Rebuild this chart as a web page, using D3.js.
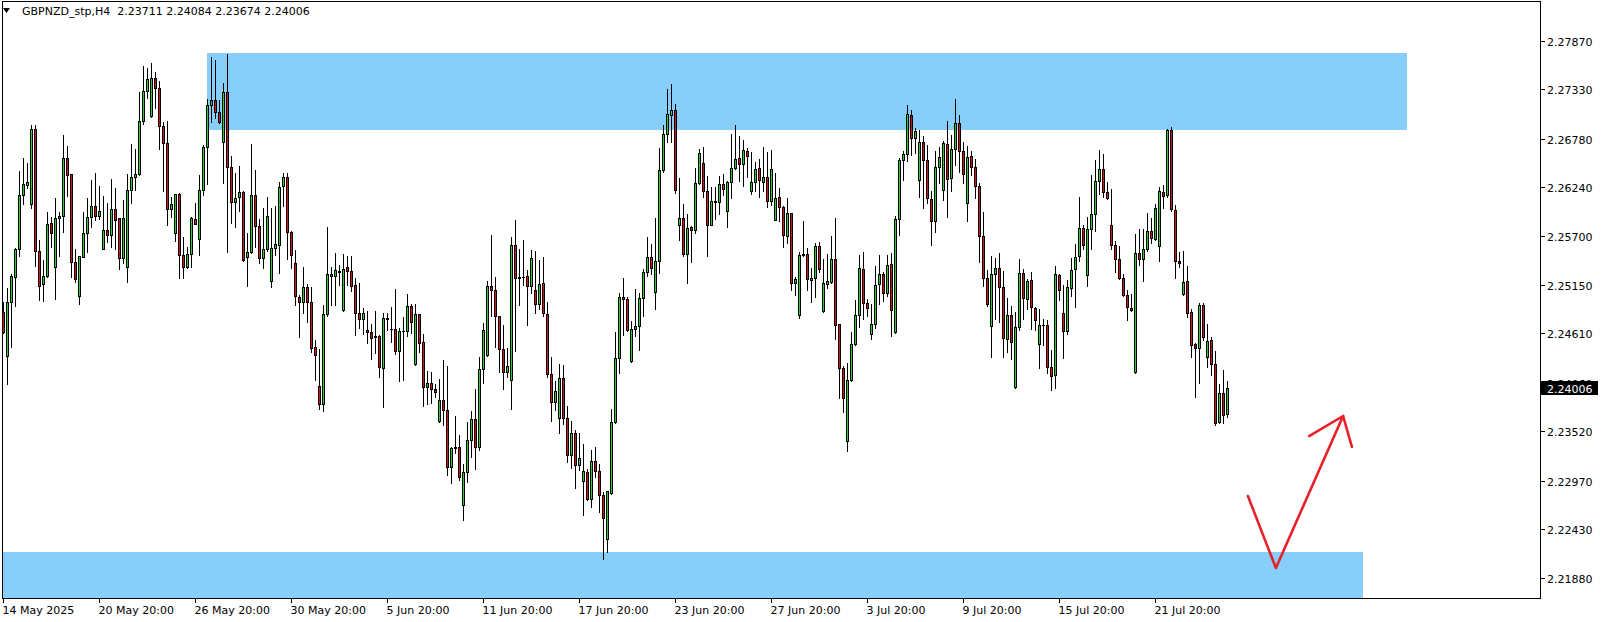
<!DOCTYPE html>
<html><head><meta charset="utf-8">
<script src="https://cdn.jsdelivr.net/npm/d3@7"></script>
<style>
html,body{margin:0;padding:0;background:#fff;overflow:hidden}
svg{display:block}
text{font-family:"DejaVu Sans",sans-serif;font-size:11px;fill:#000}
</style></head><body>
<svg id="chart" width="1604" height="622"></svg>
<script>
const symbolTitle = "GBPNZD_stp,H4";
const lastBar = [2.23711, 2.24084, 2.23674, 2.24006];

const open = [
2.24845,2.24362,2.24956,2.25242,2.25547,2.26149,2.26268,2.26049,2.26884,2.25525,
2.25157,2.25246,2.25837,2.25354,2.25893,2.25922,2.26561,2.26383,2.25402,2.25031,
2.25461,2.25725,2.25904,2.26026,2.25922,2.25554,2.25759,2.25710,2.25993,2.25893,
2.25454,2.25354,2.26205,2.26353,2.26383,2.26974,2.27308,2.27029,2.27453,2.27341,
2.26918,2.26728,2.26000,2.25725,2.26160,2.25480,2.25354,2.25491,2.25881,2.25666,
2.26205,2.26684,2.27151,2.27207,2.27074,2.26739,2.27297,2.26460,2.26071,2.26126,
2.26182,2.25458,2.25514,2.26149,2.25804,2.25447,2.25547,2.25190,2.25558,2.25592,
2.26249,2.26349,2.25737,2.25391,2.25012,2.24956,2.25123,2.24956,2.24455,2.24020,
2.23820,2.24823,2.25246,2.25246,2.25291,2.24867,2.25347,2.25302,2.25146,2.24834,
2.24767,2.24644,2.24622,2.24577,2.24577,2.24221,2.24767,2.24656,2.24655,2.24410,
2.24633,2.24633,2.24912,2.24265,2.24823,2.24510,2.24009,2.24054,2.23987,2.23630,
2.23864,2.23753,2.23117,2.23329,2.23340,2.22694,2.23062,2.23418,2.23652,2.23340,
2.24210,2.24366,2.25134,2.25090,2.24800,2.24433,2.24176,2.24087,2.25592,2.25235,
2.25233,2.25246,2.25134,2.25090,2.24934,2.25168,2.24823,2.24154,2.23842,2.23663,
2.24109,2.23663,2.23251,2.23496,2.23139,2.22961,2.23062,2.22759,2.23184,2.23073,
2.22805,2.22315,2.22828,2.23619,2.24332,2.25012,2.24990,2.24299,2.24655,2.24689,
2.25001,2.25291,2.25458,2.25068,2.25413,2.26428,2.26829,2.27040,2.27096,2.25817,
2.25893,2.25491,2.25792,2.25759,2.26283,2.26506,2.26193,2.25817,2.26071,2.26071,
2.26271,2.25971,2.26294,2.26450,2.26561,2.26494,2.26639,2.26193,2.26294,2.26450,
2.26294,2.26349,2.26082,2.25873,2.26126,2.26015,2.25692,2.25948,2.25168,2.24811,
2.25480,2.25491,2.25201,2.25224,2.25581,2.24856,2.25157,2.25179,2.25436,2.24711,
2.24221,2.23407,2.24087,2.24488,2.24811,2.25324,2.24945,2.24600,2.24711,2.25157,
2.25268,2.25056,2.25380,2.24622,2.25881,2.26539,2.26606,2.27040,2.26784,2.26316,
2.26739,2.26539,2.26104,2.25860,2.26460,2.26205,2.26717,2.26338,2.26667,2.26951,
2.26639,2.26060,2.26584,2.26460,2.26249,2.25692,2.25224,2.24689,2.25268,2.25336,
2.25123,2.24544,2.24811,2.24009,2.24678,2.25280,2.24990,2.25201,2.24889,2.24488,
2.24701,2.24700,2.24232,2.24143,2.25257,2.24834,2.24633,2.25112,2.25324,2.25469,
2.25781,2.25257,2.25770,2.25937,2.26305,2.26439,2.26182,2.25817,2.25592,2.25436,
2.25224,2.25034,2.24889,2.24176,2.25502,2.25436,2.25547,2.25748,2.25658,2.25581,
2.26182,2.26149,2.26873,2.25982,2.25413,2.25045,2.25190,2.24845,2.24488,2.24444,
2.24923,2.24343,2.24533,2.24265,2.23619,2.23942,2.23711];

const high = [
2.24956,2.25112,2.25268,2.25558,2.26420,2.26565,2.26506,2.26933,2.26933,2.25651,
2.25428,2.25959,2.25904,2.26115,2.25967,2.26818,2.26695,2.26385,2.25547,2.25472,
2.25959,2.26115,2.26320,2.26394,2.26253,2.26145,2.26060,2.26331,2.26231,2.25896,
2.26097,2.26387,2.26721,2.26665,2.27304,2.27590,2.27564,2.27620,2.27520,2.27423,
2.26962,2.26974,2.26126,2.26163,2.26171,2.25684,2.25569,2.25904,2.26060,2.26375,
2.26706,2.27218,2.27687,2.27657,2.27207,2.27397,2.27724,2.26584,2.26394,2.26476,
2.26193,2.25725,2.26721,2.26431,2.25881,2.26004,2.26126,2.26004,2.26026,2.26294,
2.26394,2.26394,2.25748,2.25536,2.25034,2.25347,2.25157,2.25123,2.24533,2.24433,
2.24923,2.25792,2.25347,2.25502,2.25369,2.25491,2.25469,2.25469,2.25224,2.25168,
2.24889,2.24856,2.24711,2.24856,2.24589,2.24834,2.24834,2.24901,2.25101,2.24667,
2.24789,2.25045,2.24934,2.24934,2.24826,2.24600,2.24191,2.24176,2.24043,2.24098,
2.24310,2.24243,2.23340,2.23686,2.23474,2.23151,2.23619,2.23742,2.23987,2.24343,
2.24722,2.25190,2.25703,2.25235,2.24803,2.24700,2.24444,2.25681,2.25873,2.25547,
2.25648,2.25313,2.25536,2.25525,2.25424,2.25458,2.24956,2.24343,2.24076,2.24265,
2.24254,2.23797,2.23630,2.23529,2.23496,2.23374,2.23095,2.23307,2.23340,2.23151,
2.22838,2.22852,2.23764,2.24622,2.25056,2.25224,2.25012,2.24745,2.25101,2.25056,
2.25324,2.25681,2.25603,2.25893,2.26673,2.26929,2.27330,2.27386,2.27163,2.26338,
2.26049,2.25937,2.25804,2.26450,2.26667,2.26684,2.26361,2.26238,2.26238,2.26361,
2.26383,2.26305,2.26829,2.26929,2.26806,2.26762,2.26673,2.26628,2.26517,2.26555,
2.26684,2.26628,2.26650,2.26394,2.26227,2.26026,2.26115,2.25951,2.25235,2.25514,
2.25860,2.25558,2.25336,2.25614,2.25626,2.25436,2.25491,2.25692,2.25893,2.24714,
2.24243,2.24276,2.24622,2.24979,2.25480,2.25514,2.24990,2.24934,2.25358,2.25480,
2.25291,2.25480,2.25502,2.25915,2.26561,2.26639,2.27151,2.27096,2.26896,2.26873,
2.26806,2.26706,2.26193,2.26639,2.26684,2.26751,2.26974,2.26818,2.27218,2.27040,
2.26739,2.26695,2.26639,2.26555,2.26283,2.25959,2.25313,2.25469,2.25447,2.25502,
2.25302,2.25001,2.24912,2.24845,2.25436,2.25324,2.25212,2.25291,2.24901,2.24878,
2.24767,2.24756,2.24421,2.25358,2.25268,2.25146,2.25201,2.25447,2.25603,2.26132,
2.25817,2.25904,2.26372,2.26539,2.26650,2.26606,2.26294,2.26216,2.25636,2.25581,
2.25268,2.25090,2.25045,2.25714,2.25770,2.25770,2.25948,2.25893,2.26049,2.26238,
2.26260,2.26884,2.26907,2.26037,2.25514,2.25525,2.25358,2.24878,2.24499,2.24945,
2.24945,2.24711,2.24566,2.24410,2.24043,2.24198,2.24084];

const low = [
2.24618,2.24046,2.24462,2.24919,2.25476,2.26056,2.26234,2.26011,2.25365,2.24986,
2.24975,2.25240,2.25569,2.24997,2.25476,2.25744,2.26145,2.25242,2.25187,2.24941,
2.25458,2.25517,2.25800,2.25878,2.25885,2.25550,2.25632,2.25577,2.25554,2.25332,
2.25398,2.25187,2.26067,2.26205,2.26380,2.26948,2.27230,2.27026,2.27118,2.26669,
2.26201,2.25822,2.25911,2.25644,2.25231,2.25231,2.25343,2.25354,2.25830,2.25488,
2.26156,2.26279,2.26970,2.27014,2.26960,2.26290,2.25521,2.25844,2.25800,2.25978,
2.25422,2.25142,2.25502,2.25569,2.25391,2.25343,2.25525,2.25131,2.25480,2.25287,
2.26026,2.25443,2.25343,2.24930,2.24566,2.24834,2.24733,2.24399,2.24094,2.23764,
2.23742,2.24800,2.24923,2.24923,2.25146,2.24864,2.25146,2.25079,2.24589,2.24667,
2.24600,2.24499,2.24321,2.24388,2.24120,2.23786,2.24644,2.24510,2.24377,2.24076,
2.24087,2.24577,2.24611,2.24262,2.24406,2.23797,2.23820,2.23831,2.23897,2.23627,
2.23586,2.23028,2.22939,2.23273,2.22972,2.22527,2.22950,2.23229,2.23095,2.23307,
2.24054,2.24363,2.24800,2.24455,2.24176,2.23987,2.24128,2.23764,2.24410,2.24923,
2.25146,2.24700,2.25056,2.24834,2.24878,2.24800,2.24120,2.23630,2.23753,2.23496,
2.23597,2.23173,2.23106,2.22883,2.23084,2.22582,2.22756,2.22672,2.23006,2.22616,
2.22092,2.22171,2.22825,2.23616,2.24165,2.24589,2.24633,2.24288,2.24577,2.24421,
2.24800,2.25246,2.25268,2.24878,2.25280,2.26405,2.26739,2.26739,2.26171,2.25648,
2.25469,2.25168,2.25402,2.25725,2.26271,2.26132,2.25469,2.25814,2.25881,2.25937,
2.26149,2.25792,2.26115,2.26439,2.26305,2.26249,2.26349,2.26160,2.26193,2.26132,
2.26193,2.26015,2.26037,2.25870,2.25860,2.25569,2.25614,2.25090,2.25034,2.24778,
2.25477,2.25090,2.24956,2.25012,2.25291,2.24853,2.25112,2.25176,2.24544,2.23886,
2.23730,2.23296,2.24084,2.24485,2.24678,2.24767,2.24800,2.24544,2.24667,2.24934,
2.24967,2.25023,2.24577,2.24619,2.25703,2.26316,2.26528,2.26595,2.26617,2.26126,
2.26004,2.26060,2.25592,2.25737,2.26283,2.26093,2.25904,2.26193,2.26483,2.26405,
2.26283,2.25860,2.26372,2.26115,2.25402,2.25134,2.24912,2.24343,2.24767,2.24733,
2.24351,2.24399,2.24321,2.24006,2.24644,2.24767,2.24878,2.24655,2.24644,2.24221,
2.24477,2.24165,2.23975,2.23998,2.24979,2.24332,2.24600,2.25023,2.24901,2.25413,
2.25547,2.25134,2.25547,2.25748,2.26160,2.26126,2.26104,2.25547,2.25291,2.25212,
2.25023,2.24756,2.24856,2.24173,2.25369,2.25190,2.25525,2.25614,2.25648,2.25413,
2.26004,2.26132,2.25971,2.25224,2.25347,2.25034,2.24789,2.24343,2.23897,2.24054,
2.24533,2.24232,2.24143,2.23586,2.23608,2.23608,2.23674];

const close = [
2.24629,2.24956,2.25246,2.25547,2.26149,2.26271,2.26294,2.26884,2.25532,2.25142,
2.25246,2.25826,2.25725,2.25893,2.25922,2.26561,2.26372,2.25402,2.25220,2.25469,
2.25725,2.25904,2.26026,2.25922,2.25971,2.25759,2.25710,2.25993,2.25878,2.25454,
2.25893,2.26205,2.26353,2.26383,2.26974,2.27308,2.27442,2.27453,2.27341,2.26918,
2.26728,2.26000,2.26049,2.26160,2.25480,2.25354,2.25491,2.25893,2.25833,2.26205,
2.26684,2.27151,2.27215,2.27074,2.26962,2.27297,2.26460,2.26071,2.26115,2.26182,
2.25424,2.25514,2.26149,2.25811,2.25447,2.25547,2.25915,2.25558,2.25603,2.26238,
2.26349,2.25737,2.25480,2.25023,2.24956,2.25123,2.24956,2.24444,2.24366,2.23820,
2.24823,2.25268,2.25268,2.25313,2.25302,2.25332,2.25302,2.25134,2.24834,2.24767,
2.24834,2.24622,2.24555,2.24566,2.24232,2.24778,2.24778,2.24654,2.24410,2.24633,
2.24633,2.24912,2.24733,2.24823,2.24499,2.24009,2.24054,2.23987,2.23953,2.23864,
2.23753,2.23117,2.23329,2.23340,2.23006,2.23062,2.23418,2.23652,2.23340,2.24210,
2.24644,2.25134,2.25090,2.24800,2.24433,2.24176,2.24243,2.25592,2.25224,2.25224,
2.25236,2.25134,2.25447,2.24934,2.25157,2.24834,2.24154,2.23842,2.23964,2.24109,
2.23663,2.23251,2.23496,2.23139,2.23218,2.23073,2.22759,2.23184,2.23073,2.22805,
2.22549,2.22849,2.23619,2.24332,2.25012,2.24990,2.24644,2.24655,2.24689,2.25001,
2.25291,2.25458,2.25336,2.25413,2.26428,2.26829,2.27052,2.27096,2.26205,2.25893,
2.25491,2.25781,2.25759,2.26283,2.26617,2.26193,2.25817,2.26082,2.26082,2.26271,
2.26216,2.26294,2.26450,2.26555,2.26494,2.26650,2.26584,2.26294,2.26439,2.26316,
2.26349,2.26082,2.26439,2.26115,2.26015,2.25703,2.25948,2.25168,2.25212,2.25480,
2.25491,2.25212,2.25224,2.25581,2.25324,2.25168,2.25190,2.25436,2.24700,2.24221,
2.23886,2.24087,2.24488,2.24811,2.25336,2.24945,2.24889,2.24711,2.25146,2.25268,
2.25056,2.25369,2.24867,2.25881,2.26539,2.26606,2.27052,2.26784,2.26862,2.26739,
2.26539,2.26115,2.25860,2.26460,2.26572,2.26728,2.26327,2.26667,2.26951,2.26639,
2.26383,2.26572,2.26460,2.26249,2.25692,2.25224,2.24934,2.25268,2.25336,2.25123,
2.24555,2.24811,2.24510,2.24678,2.25280,2.25001,2.25190,2.24901,2.24756,2.24700,
2.24699,2.24232,2.24132,2.25268,2.25090,2.24633,2.25123,2.25313,2.25458,2.25781,
2.25592,2.25770,2.25937,2.26305,2.26439,2.26182,2.26115,2.25592,2.25436,2.25224,
2.25034,2.24901,2.24867,2.25502,2.25436,2.25547,2.25748,2.25670,2.26004,2.26193,
2.26138,2.26873,2.25993,2.25413,2.25391,2.25179,2.24834,2.24477,2.24444,2.24923,
2.24566,2.24522,2.24265,2.23608,2.23942,2.23697,2.24006];

const priceTicks = [2.27870,2.27330,2.26780,2.26240,2.25700,2.25150,2.24610,2.24060,2.23520,2.22970,2.22430,2.21880];
const timeTickBars = [0,24,48,72,96,120,144,168,192,216,240,264,288];
const timeTickLabels = ["14 May 2025","20 May 20:00","26 May 20:00","30 May 20:00","5 Jun 20:00","11 Jun 20:00","17 Jun 20:00","23 Jun 20:00","27 Jun 20:00","3 Jul 20:00","9 Jul 20:00","15 Jul 20:00","21 Jul 20:00"];

// zones: [startBar, endBar, upperPrice, lowerPrice]
const upperZone = [51, 351, 2.27735, 2.26877];
const lowerZone = [-2, 340, 2.22173, 2.21400];
// hand-drawn arrow: [bar, price]
const arrowLine = [[311.1,2.22797],[318.1,2.21995],[334.9,2.23689]];
const arrowHead = [[326.4,2.23466],[334.9,2.23689],[337.1,2.23344]];

const svg = d3.select("#chart");
const W = 1604, H = 622;
const plot = {left:3, top:2, right:1540, bottom:598};

const x = d3.scaleLinear().domain([0, 384]).range([3.5, 3.5 + 4*384]);
const y = d3.scaleLinear().domain([2.21880, 2.27870]).range([578.3, 40.9]);
const py = v => Math.round(y(v));

svg.append("rect").attr("width", W).attr("height", H).attr("fill", "#fff");
svg.append("defs").append("clipPath").attr("id","plotclip")
  .append("rect").attr("x", plot.left).attr("y", plot.top)
  .attr("width", plot.right - plot.left).attr("height", plot.bottom - plot.top);

const g = svg.append("g").attr("clip-path","url(#plotclip)").attr("shape-rendering","crispEdges");

// zones
[upperZone, lowerZone].forEach(z => {
  const x0 = x(z[0]) - 0.5, x1 = x(z[1]) - 0.5;
  g.append("rect").attr("x", x0).attr("y", py(z[2]))
    .attr("width", x1 - x0).attr("height", py(z[3]) - py(z[2]))
    .attr("fill", "#87cefa");
});

// candles
const bars = d3.range(open.length).map(i => ({i, o:open[i], h:high[i], l:low[i], c:close[i]}));
const cg = g.append("g");
const cand = cg.selectAll("g.c").data(bars).join("g").attr("class","c");
cand.append("rect")
  .attr("x", d => x(d.i) - 0.5)
  .attr("y", d => py(d.h))
  .attr("width", 1)
  .attr("height", d => py(d.l) - py(d.h) + 1)
  .attr("fill", "#000");
cand.append("rect")
  .attr("x", d => x(d.i) - 1.5)
  .attr("y", d => py(Math.max(d.o, d.c)))
  .attr("width", 3)
  .attr("height", d => py(Math.min(d.o, d.c)) - py(Math.max(d.o, d.c)) + 1)
  .attr("fill", "#000");
cand.filter(d => py(Math.min(d.o, d.c)) - py(Math.max(d.o, d.c)) >= 2)
  .append("rect")
  .attr("x", d => x(d.i) - 0.5)
  .attr("y", d => py(Math.max(d.o, d.c)) + 1)
  .attr("width", 1)
  .attr("height", d => py(Math.min(d.o, d.c)) - py(Math.max(d.o, d.c)) - 1)
  .attr("fill", d => d.c >= d.o ? "#2fcc2f" : "#d41515");

// red hand-drawn arrow
const lineGen = d3.line().x(d => x(d[0])).y(d => y(d[1]));
const ag = svg.append("g").attr("clip-path","url(#plotclip)");
ag.append("path").attr("d", lineGen(arrowLine)).attr("fill","none")
  .attr("stroke","#e8202a").attr("stroke-width",2.6).attr("stroke-linejoin","round").attr("stroke-linecap","round");
ag.append("path").attr("d", lineGen(arrowHead)).attr("fill","none")
  .attr("stroke","#e8202a").attr("stroke-width",2.6).attr("stroke-linejoin","round").attr("stroke-linecap","round");

// frame
svg.append("rect").attr("x", 2.5).attr("y", 1.5).attr("width", 1538).attr("height", 597)
  .attr("fill","none").attr("stroke","#000").attr("shape-rendering","crispEdges");

// price axis
const pa = svg.append("g");
priceTicks.forEach(p => {
  const ty = py(p);
  pa.append("line").attr("x1", 1541).attr("x2", 1545).attr("y1", ty + 0.5).attr("y2", ty + 0.5)
    .attr("stroke","#000").attr("shape-rendering","crispEdges");
  pa.append("text").attr("x", 1547).attr("y", ty + 4.5).text(p.toFixed(5));
});
// current price label
const cy = py(lastBar[3]);
pa.append("rect").attr("x", 1541).attr("y", cy - 7).attr("width", 57).attr("height", 14).attr("fill","#000");
pa.append("text").attr("x", 1547).attr("y", cy + 4.5).style("fill","#fff").text(lastBar[3].toFixed(5));

// time axis
const ta = svg.append("g");
timeTickBars.forEach((b, k) => {
  const tx = x(b);
  ta.append("line").attr("x1", tx).attr("x2", tx).attr("y1", 599).attr("y2", 603)
    .attr("stroke","#000").attr("shape-rendering","crispEdges");
  ta.append("text").attr("x", tx - 1).attr("y", 614).text(timeTickLabels[k]);
});

// header
svg.append("path").attr("d","M3,8 L10,8 L6.5,13 Z").attr("fill","#000");
svg.append("text").attr("x", 22).attr("y", 15).attr("xml:space","preserve")
  .style("white-space","pre")
  .text(symbolTitle + "  " + lastBar.map(v => v.toFixed(5)).join(" "));
</script>
</body></html>
